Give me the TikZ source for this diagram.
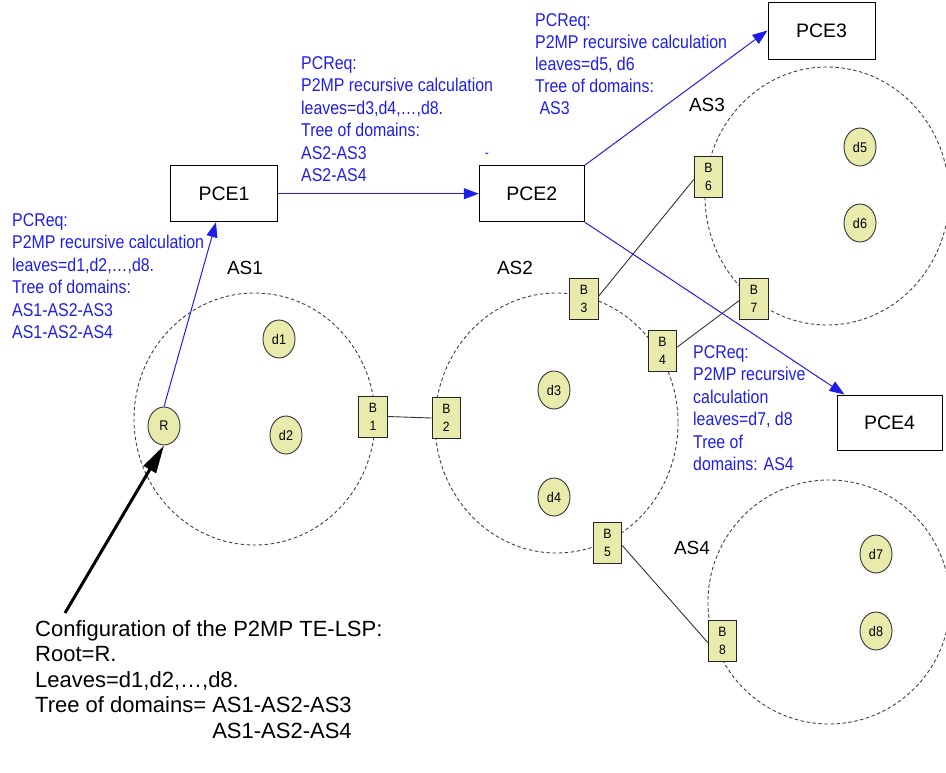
\documentclass[tikz,border=0pt]{standalone}
\usepackage{fontspec}
\setmainfont{Liberation Sans}
\newfontfamily\bluefont[FakeStretch=0.86]{Liberation Sans}
\newfontfamily\smallfont[FakeStretch=0.9]{Liberation Sans}
\usetikzlibrary{arrows.meta,shapes.geometric,calc}
\definecolor{pceblue}{RGB}{30,30,235}
\definecolor{nodefill}{RGB}{233,235,172}
\begin{document}
\begin{tikzpicture}[x=1pt,y=-1pt,
 asdomain/.style={draw=black!75, dash pattern=on 3.5pt off 2.5pt, line width=0.9pt},
 pce/.style={rectangle, draw=black, line width=1pt, minimum width=106pt, minimum height=56pt, inner sep=0pt, font=\fontsize{19.5}{23}\selectfont},
 dest/.style={ellipse, draw=black!80, line width=0.9pt, fill=nodefill, minimum width=32pt, minimum height=38pt, inner sep=0pt, font=\smallfont\fontsize{14}{16}\selectfont},
 border/.style={rectangle, draw=black!85, line width=1pt, fill=nodefill, minimum width=28.5pt, minimum height=41pt, inner sep=0pt, align=center, font=\smallfont\fontsize{13.5}{18}\selectfont},
 astext/.style={font=\fontsize{19}{22}\selectfont, inner sep=0pt},
 req/.style={anchor=north west, inner sep=0pt, align=left, text=pceblue, font=\bluefont\fontsize{18.5}{22.5}\selectfont},
 msg/.style={draw=pceblue, line width=1pt, -{Triangle[length=15pt,width=11pt]}},
 link/.style={draw=black!80, line width=0.9pt},
 config/.style={draw=black, line width=3pt, -{Triangle[length=28pt,width=14pt]}},
]
\path[use as bounding box] (0,0) rectangle (946,772);

% domains
\draw[asdomain] (254.5,419) ellipse [x radius=120.5, y radius=126];
\draw[asdomain] (556.5,423) ellipse [x radius=121.5, y radius=130];
\draw[asdomain] (827,196) ellipse [x radius=122, y radius=129];
\draw[asdomain] (829,602) ellipse [x radius=121, y radius=122];

\node[astext] (as1) at (245,268) {AS1};
\node[astext] (as2) at (515,268) {AS2};
\node[astext] (as3) at (707,105) {AS3};
\node[astext] (as4) at (692,548) {AS4};

% PCEs
\node[pce, minimum width=106.6pt] (PCE1) at (224,193.7) {PCE1};
\node[pce, minimum width=105pt] (PCE2) at (531.8,193.7) {PCE2};
\node[pce, minimum width=107pt, minimum height=57pt] (PCE3) at (821.5,30.5) {PCE3};
\node[pce, minimum width=105pt, minimum height=55pt] (PCE4) at (889.5,422.5) {PCE4};

% root and leaves
\node[dest] (R) at (164,426) {R};
\node[dest] (d1) at (279,339) {d1};
\node[dest] (d2) at (286,435) {d2};
\node[dest] (d3) at (554,390) {d3};
\node[dest] (d4) at (554,497) {d4};
\node[dest] (d5) at (860,147) {d5};
\node[dest] (d6) at (860,223) {d6};
\node[dest] (d7) at (876,554) {d7};
\node[dest] (d8) at (876,631) {d8};

% border nodes
\node[border] (B1) at (373,416.5) {B\\1};
\node[border] (B2) at (446.3,418) {B\\2};
\node[border] (B3) at (584,299) {B\\3};
\node[border] (B4) at (662.5,351) {B\\4};
\node[border] (B5) at (607.5,542.5) {B\\5};
\node[border] (B6) at (708.5,176.5) {B\\6};
\node[border] (B7) at (754,298.5) {B\\7};
\node[border] (B8) at (722.5,640.5) {B\\8};

% inter-domain links
\draw[link] (B1.east) -- (B2.west);
\draw[link] ([yshift=3pt]B3.east) -- ([yshift=-3pt]B6.west);
\draw[link] ([yshift=4pt]B4.east) -- ([yshift=-2pt]B7.west);
\draw[link] ([yshift=-3pt]B5.east) -- ([yshift=-2pt]B8.west);

% PCReq messages
\draw[msg] (R.north) -- ([xshift=-8pt]PCE1.south);
\draw[msg] (PCE1.east) -- (PCE2.west);
\draw[msg] (PCE2.north east) -- (PCE3.west);
\draw[msg] (PCE2.south east) -- ([xshift=8pt]PCE4.north west);

\node[req] (req1) at (12,213) {PCReq:\\P2MP recursive calculation\\leaves=d1,d2,…,d8.\\Tree of domains:\\AS1-AS2-AS3\\AS1-AS2-AS4};
\node[req] (req2) at (301,56) {PCReq:\\P2MP recursive calculation\\leaves=d3,d4,…,d8.\\Tree of domains:\\AS2-AS3\\AS2-AS4};
\node[req, font=\bluefont\fontsize{18.5}{22}\selectfont] (req3) at (535,13) {PCReq:\\P2MP recursive calculation\\leaves=d5, d6\\Tree of domains:\\\ AS3};
\node[req] (req4) at (693,345) {PCReq:\\P2MP recursive\\calculation\\leaves=d7, d8\\Tree of\\domains: AS4};
\node[text=pceblue, inner sep=0pt, font=\bluefont\fontsize{14}{16}\selectfont] (dash) at (487,155) {-};

% configuration
\node[anchor=north west, inner sep=0pt, align=left, font=\fontsize{22}{25.5}\selectfont] (cfg) at (35,620)
 {Configuration of the P2MP TE-LSP:\\Root=R.\\Leaves=d1,d2,…,d8.\\Tree of domains= AS1-AS2-AS3\\\phantom{Tree of domains= }AS1-AS2-AS4};
\coordinate (cfgtip) at (65,613);
\draw[config] (cfgtip) -- (R.south);
\end{tikzpicture}
\end{document}
